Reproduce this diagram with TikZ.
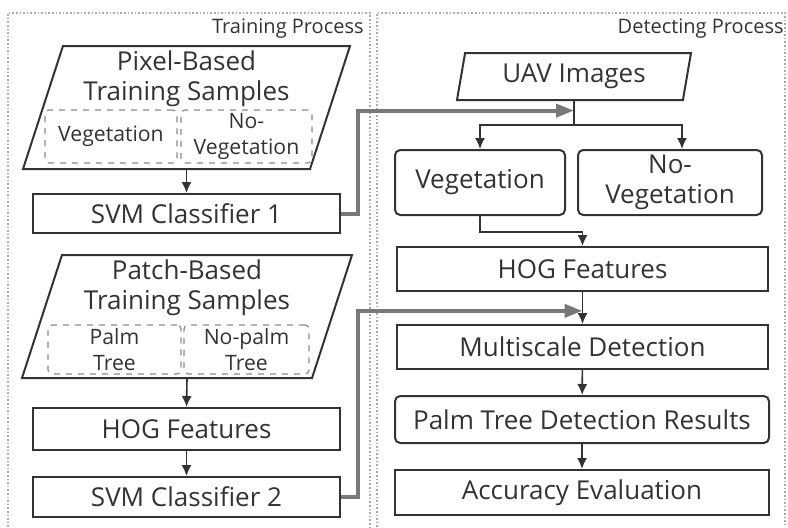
\documentclass[tikz,border=0pt]{standalone}
\usepackage{fontspec}
\setmainfont{Open Sans}
\usetikzlibrary{arrows.meta,shapes.geometric,calc}
\definecolor{ink}{HTML}{333333}
\definecolor{flowgray}{HTML}{787878}
\definecolor{framegray}{HTML}{ABABAB}
\definecolor{dashgray}{HTML}{8A8A8A}

\begin{document}
\begin{tikzpicture}[
  x=0.5pt,y=-0.5pt,
  font=\fontsize{13}{15.2}\selectfont,
  procbox/.style={draw=ink,line width=1pt,text=ink,align=center,inner sep=0pt},
  roundbox/.style={procbox,rounded corners=2.6pt},
  databox/.style={trapezium,trapezium left angle=72,trapezium right angle=108,trapezium stretches body,draw=ink,line width=1pt,text=ink,inner sep=0pt},
  samplebox/.style={databox,text height=61.5pt,text depth=0pt},
  classbox/.style={draw=dashgray,dashed,line width=0.6pt,rounded corners=2pt,text=ink,align=center,inner sep=0pt,font=\fontsize{10.6}{13}\selectfont},
  title/.style={text=ink,align=center,inner sep=0pt},
  panel/.style={text=ink,anchor=east,inner sep=0pt,font=\fontsize{10}{12}\selectfont},
  frame/.style={draw=framegray,densely dotted,line width=0.8pt},
  arr/.style={-{Latex[length=5.5pt,width=5pt]},line width=0.8pt,draw=ink},
  feed/.style={-{Triangle[length=9pt,width=6.5pt]},line width=2pt,draw=flowgray}
]
\useasboundingbox (0,0) rectangle (788,527);
\draw[frame] (8,527) -- (8,13) -- (370,13) -- (370,527);
\draw[frame] (377,527) -- (377,13) -- (785,13) -- (785,527);
\node[panel] (trainlabel) at (364,29) {Training Process};
\node[panel] (detectlabel) at (784,29) {Detecting Process};

\node[samplebox,minimum width=163.5pt] (pixel) at (186.5,107.5) {};
\node[title] (pixeltitle) at (186.5,78.5) {Pixel-Based\\Training Samples};
\node[classbox,minimum width=66pt,minimum height=26.5pt] (vegsample) at (111,136.5) {Vegetation};
\node[classbox,minimum width=65.5pt,minimum height=26.5pt] (novegsample) at (246.5,136.5) {No-\\Vegetation};
\node[procbox,minimum width=153.5pt,minimum height=19.5pt] (svmone) at (186.5,213.5) {SVM Classifier 1};

\node[samplebox,minimum width=165pt] (patch) at (187,316.5) {};
\node[title] (patchtitle) at (187,287.5) {Patch-Based\\Training Samples};
\node[classbox,minimum width=66.5pt,minimum height=24.5pt] (palmsample) at (114.5,349.5) {Palm\\Tree};
\node[classbox,minimum width=62.5pt,minimum height=24.5pt] (nopalmsample) at (246.5,349.5) {No-palm\\Tree};
\node[procbox,minimum width=153.5pt,minimum height=21pt] (hogl) at (186.5,429) {HOG Features};
\node[procbox,minimum width=153.5pt,minimum height=20pt] (svmtwo) at (186.5,497) {SVM Classifier 2};

\node[databox,minimum width=117pt,minimum height=23.5pt] (uav) at (574,76.5) {UAV Images};
\coordinate (split) at (574,125);
\node[roundbox,minimum width=85pt,minimum height=32.5pt] (veg) at (480,182.5) {Vegetation};
\node[roundbox,minimum width=92pt,minimum height=32.5pt] (noveg) at (670,182.5) {No-\\Vegetation};
\node[procbox,minimum width=185.5pt,minimum height=22pt] (hogr) at (582.5,269) {HOG Features};
\node[procbox,minimum width=185.5pt,minimum height=22pt] (multi) at (582.5,347) {Multiscale Detection};
\node[roundbox,minimum width=187pt,minimum height=23.5pt] (result) at (582,419.5) {Palm Tree Detection Results};
\node[procbox,minimum width=187pt,minimum height=22.5pt] (accuracy) at (582,492.5) {Accuracy Evaluation};

\coordinate (joinuav) at ($(uav.south)!0.4!(split)$);
\coordinate (joinhog) at ($(hogr.south)!0.59!(multi.north)$);
\draw[feed] (svmone.east) -- ++(17,0) |- (joinuav);
\draw[feed] (svmtwo.east) -- ++(17,0) |- (joinhog);

\draw[arr] (pixel.south) -- (svmone.north);
\draw[arr] (patch.south) -- (hogl.north);
\draw[arr] (hogl) -- (svmtwo);
\draw[line width=0.8pt,draw=ink] (uav.south) -- (split);
\draw[arr] (split) -| (veg.north);
\draw[arr] (split) -| ($(noveg.north)+(12,0)$);
\draw[arr] (veg.south) -- ++(0,16) -| (hogr.north);
\draw[arr] (hogr) -- (multi);
\draw[arr] (multi) -- (result);
\draw[arr] (result) -- (accuracy);
\end{tikzpicture}
\end{document}
